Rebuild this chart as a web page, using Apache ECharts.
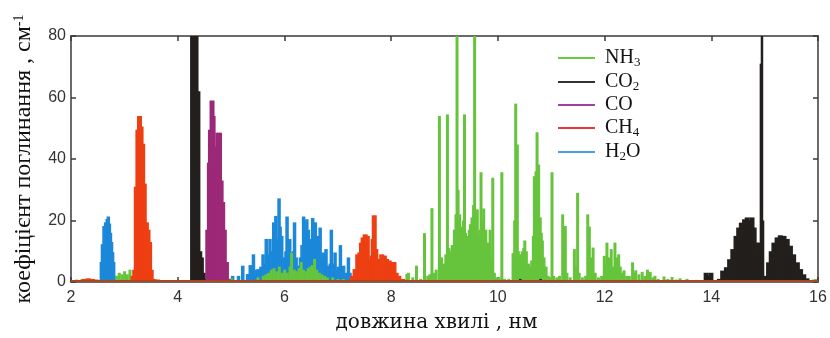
<!DOCTYPE html>
<html><head><meta charset="utf-8">
<script src="https://cdn.jsdelivr.net/npm/echarts@6/dist/echarts.min.js"></script>
<style>html,body{margin:0;padding:0;background:#fff}#c{width:830px;height:338px}</style>
</head><body><div id="c"></div>
<script>
// ---- data (wavelength, absorption) ----
const xTicks = [2, 4, 6, 8, 10, 12, 14, 16];
const yTicks = [0, 20, 40, 60, 80];
const seriesNames = ['NH3', 'CO2', 'CO', 'CH4', 'H2O'];

const h2o = [[2.56,6.5],[2.58,12.3],[2.61,18.2],[2.64,19.4],[2.67,20.5],[2.69,21.3],[2.71,19],[2.73,16],[2.75,13],[2.77,9.7],[2.79,6.5],[2.82,2],
[5.02,2],[5.13,2],[5.21,5.3],[5.30,2.6],[5.35,5.5],[5.38,3],[5.41,9],[5.45,4],[5.50,4.2],[5.55,5],[5.59,9],[5.62,6],[5.65,14],[5.68,9],[5.72,14],[5.75,10],[5.79,19.4],[5.81,12],[5.83,21.5],[5.86,14],[5.89,27.2],[5.91,18],[5.94,15],[5.97,8],[5.99,6.5],[6.02,10],[6.04,21.3],[6.07,12],[6.09,14],[6.11,8],[6.13,9.6],[6.16,10],[6.18,19.4],[6.21,8],[6.25,5.3],[6.29,8],[6.32,12],[6.35,21.3],[6.38,17],[6.41,20.4],[6.44,17],[6.47,14],[6.49,12],[6.52,20.8],[6.55,16],[6.57,19.4],[6.60,12],[6.62,15],[6.64,11],[6.66,17.7],[6.69,8],[6.72,9.6],[6.75,7],[6.77,10.7],[6.80,5],[6.82,5.3],[6.85,6],[6.87,17],[6.90,6],[6.94,9.6],[6.97,4],[7.00,5],[7.04,12],[7.07,4],[7.10,5.3],[7.14,3],[7.19,8],[7.22,3]];

const nh3 = [[2.10,0.8],[2.2,1],[2.3,0.8],[2.85,2],[2.9,3],[2.95,2.5],[3.0,3.5],[3.05,2.5],[3.1,4],[3.15,2],[3.6,0.5],[3.8,0.5],[4.0,0.6],[4.4,0.8],[4.9,1],[5.0,1.2],
[5.5,1.5],[5.6,2],[5.65,2.5],[5.7,3],[5.75,4],[5.8,4.5],[5.85,3.5],[5.9,5],[5.95,3],[6.0,4],[6.05,3],[6.1,5],[6.13,9.5],[6.18,4],[6.22,3.5],[6.27,4.5],[6.31,6.5],[6.35,4],[6.4,3.5],[6.44,4.5],[6.48,5],[6.52,5.5],[6.56,7.5],[6.6,4],[6.65,3],[6.7,2.5],[6.75,2],[6.8,1.5],[6.9,1.5],[7.0,1],[7.1,1],[7.3,1],[8.29,2.6],[8.32,3],[8.40,1.5],[8.47,5.3],
[8.55,1],[8.62,15.9],[8.68,2],[8.72,2.5],[8.76,24],[8.80,3],[8.84,4],[8.90,54],[8.94,8],[8.98,6],[9.02,9],[9.05,54.5],[9.08,11],[9.11,10],[9.14,12],[9.18,17],[9.21,22],[9.23,85],[9.25,30],[9.28,22],[9.30,18],[9.32,17],[9.35,20],[9.37,54.5],[9.39,16],[9.41,15],[9.44,14],[9.46,17],[9.48,18.8],[9.51,21],[9.54,25],[9.56,85],[9.58,20],[9.61,23.6],[9.64,15],[9.66,17],[9.68,35.7],[9.70,20],[9.73,23.9],[9.75,15],[9.77,17],[9.80,10],[9.82,12.8],[9.85,17],[9.88,8],[9.90,33.9],[9.93,3],[9.97,1.5],[10.02,1.5],[10.07,35.7],[10.12,1],[10.2,1],
[10.28,9.4],[10.31,20],[10.33,58],[10.36,44.7],[10.38,10],[10.40,8],[10.43,9],[10.45,10],[10.48,11],[10.50,13.5],[10.53,10],[10.57,6],[10.60,5],[10.63,7],[10.66,15],[10.68,34.4],[10.71,36],[10.73,48.7],[10.76,38.2],[10.79,21],[10.81,16],[10.83,13.5],[10.86,8],[10.90,5],[10.94,2],[10.97,1.5],[11.01,35.7],[11.04,2],[11.1,1.5],[11.15,2],
[11.21,22],[11.24,12],[11.26,18.2],[11.29,3],[11.35,1.5],[11.43,10.7],[11.46,5],[11.49,29],[11.52,3],[11.58,1.5],[11.64,2],[11.68,22],[11.71,18],[11.74,8],[11.78,11.2],[11.82,3],[11.88,1.5],[11.94,2],[11.99,8.5],[12.02,6],[12.04,12.8],[12.08,8],[12.12,10.7],[12.15,5],[12.19,12.8],[12.22,8],[12.26,9],[12.29,5],[12.33,3],[12.36,3.8],[12.41,2],[12.46,2],[12.52,6.4],[12.55,3],[12.58,3.8],[12.64,2.5],[12.70,3.3],[12.75,2],[12.80,4],[12.85,3.3],[12.90,1.5],[12.94,2],[13.0,1],[13.11,1.8],[13.18,1],[13.26,1.6],[13.34,0.8],[13.41,1.2],[13.54,1],[13.72,0.7],[14.0,0.6],[14.5,0.6],[15.0,0.5],[15.5,0.5],[15.9,0.8],[15.95,1]];

const ch4 = [[2.23,1],[2.3,1.2],[2.38,1],[2.45,0.8],[3.14,2],[3.17,4],[3.20,31],[3.23,49.5],[3.26,54],[3.29,50.6],[3.32,45],[3.35,32],[3.39,19.4],[3.42,17],[3.45,13],[3.48,4],[3.51,1],[3.55,0.8],[3.6,0.8],[3.65,0.6],
[7.25,2],[7.30,4.2],[7.35,9],[7.39,9.6],[7.42,12.8],[7.45,14.5],[7.49,15.5],[7.53,15],[7.57,7.5],[7.62,8.6],[7.64,14],[7.66,21.7],[7.69,10.7],[7.73,6.5],[7.77,7.5],[7.80,9],[7.85,8.6],[7.89,7.5],[7.94,7],[7.99,6.5],[8.03,6.5],[8.07,3],[8.12,2],[8.19,1],[8.25,0.7]];

const co = [[4.51,1],[4.54,17],[4.57,38.8],[4.59,49.5],[4.62,59],[4.64,54],[4.67,39],[4.70,44],[4.73,48.5],[4.76,48.5],[4.79,33],[4.82,26],[4.85,17],[4.89,6.5],[4.92,1]];

// CO2 broad bands
const co2Bands = [[4.255,85],[4.29,85],[4.32,85],[4.355,62],[4.39,10],[4.42,8],[4.45,3],
[13.88,3],[13.93,2],[13.97,3],
[14.13,1],[14.19,3.7],[14.26,4.8],[14.32,7.4],[14.38,10.7],[14.44,15],[14.49,17.7],[14.54,19.3],[14.60,20.4],[14.65,21],[14.69,20],[14.74,21],[14.78,17.7],[14.82,12.8],[14.85,8.6],[14.88,12.8],[14.90,2],
[15.01,2],[15.05,6.4],[15.10,10],[15.15,12.8],[15.21,14.5],[15.27,15.2],[15.34,15],[15.40,14],[15.46,11.8],[15.52,9],[15.59,6.4],[15.65,4.2],[15.71,2.5],[15.77,1.2]];
// CO2 narrow lines
const co2Lines = [[10.42,1],[10.8,1],[14.93,71],[14.95,85],[14.97,20]];

// ---- styling ----
const fill = {NH3:'#66c43c', CO2:'#221f1c', CO:'#9c2878', CH4:'#ee3f12', H2O:'#1b88d9'};
const legendColor = {NH3:'#66cc44', CO2:'#333333', CO:'#a040a0', CH4:'#e83a30', H2O:'#4a9be8'};
const legendLabel = {NH3:'{n|NH}{s|3}', CO2:'{n|CO}{s|2}', CO:'{n|CO}', CH4:'{n|CH}{s|4}', H2O:'{n|H}{s|2}{m|O}'};
const serif = 'Liberation Serif, Times New Roman, serif';
const wideSerif = 'DejaVu Serif, Liberation Serif, serif';
const sans = 'Liberation Sans, Arial, sans-serif';

function barSeries(name, data, width, extra) {
  return Object.assign({
    name: name, type: 'bar', data: data, barWidth: width, barGap: '-100%',
    itemStyle: {color: fill[name]}, clip: true, silent: true, animation: false
  }, extra || {});
}

const axisLineStyle = {color: '#3a3a3a', width: 1.5};
const chart = echarts.init(document.getElementById('c'));
chart.setOption({
  animation: false,
  grid: {left: 71, right: 12, top: 36, bottom: 55},
  legend: {
    orient: 'vertical', left: 553, top: 42, itemGap: 2, itemWidth: 37, itemHeight: 2, icon: 'rect',
    data: seriesNames.map(n => ({name: n, itemStyle: {color: legendColor[n]}})),
    formatter: n => legendLabel[n],
    textStyle: {rich: {
      n: {fontFamily: serif, fontSize: 20, color: '#111', lineHeight: 22, padding: [0,0,0,5]},
      m: {fontFamily: serif, fontSize: 20, color: '#111', lineHeight: 22},
      s: {fontFamily: serif, fontSize: 13, color: '#111', lineHeight: 12, padding: [9,0,0,0]}
    }}
  },
  xAxis: [{
    type: 'value', min: xTicks[0], max: xTicks[xTicks.length-1], interval: 2, position: 'bottom',
    axisLine: {onZero: false, lineStyle: axisLineStyle},
    axisTick: {inside: true, length: 5, lineStyle: axisLineStyle},
    axisLabel: {fontFamily: sans, fontSize: 16, color: '#333', margin: 8},
    splitLine: {show: false},
    name: 'довжина хвилі , нм', nameLocation: 'middle', nameGap: 31,
    nameTextStyle: {fontFamily: wideSerif, fontSize: 20, color: '#111', padding: [0,16,0,0]}
  }, {
    type: 'value', min: xTicks[0], max: xTicks[xTicks.length-1], interval: 2, position: 'top',
    axisLine: {onZero: false, lineStyle: axisLineStyle},
    axisTick: {inside: true, length: 5, lineStyle: axisLineStyle},
    axisLabel: {show: false}, splitLine: {show: false}
  }],
  yAxis: [{
    type: 'value', min: yTicks[0], max: yTicks[yTicks.length-1], interval: 20, position: 'left',
    axisLine: {show: true, onZero: false, lineStyle: axisLineStyle},
    axisTick: {show: true, inside: true, length: 5, lineStyle: axisLineStyle},
    axisLabel: {fontFamily: sans, fontSize: 16, color: '#333', margin: 5},
    splitLine: {show: false},
    name: 'коефіцієнт поглинання , см{sup|-1}', nameLocation: 'middle', nameGap: 35,
    nameTextStyle: {fontFamily: serif, fontSize: 24, color: '#111',
      rich: {sup: {fontFamily: serif, fontSize: 14, color: '#111', padding: [0,0,10,0]}}}
  }, {
    type: 'value', min: yTicks[0], max: yTicks[yTicks.length-1], interval: 20, position: 'right',
    axisLine: {show: true, onZero: false, lineStyle: axisLineStyle},
    axisTick: {show: true, inside: true, length: 5, lineStyle: axisLineStyle},
    axisLabel: {show: false}, splitLine: {show: false}
  }],
  series: [
    barSeries('H2O', h2o, 3.5),
    barSeries('NH3', nh3, 3),
    barSeries('CH4', ch4, 5, {markLine: {silent: true, symbol: 'none', label: {show: false},
      lineStyle: {color: '#a84822', width: 2, type: 'solid'}, data: [{yAxis: 0.5}]}}),
    barSeries('CO', co, 5),
    barSeries('CO2', co2Bands, 5),
    barSeries('CO2', co2Lines, 2.5)
  ]
});
</script></body></html>
